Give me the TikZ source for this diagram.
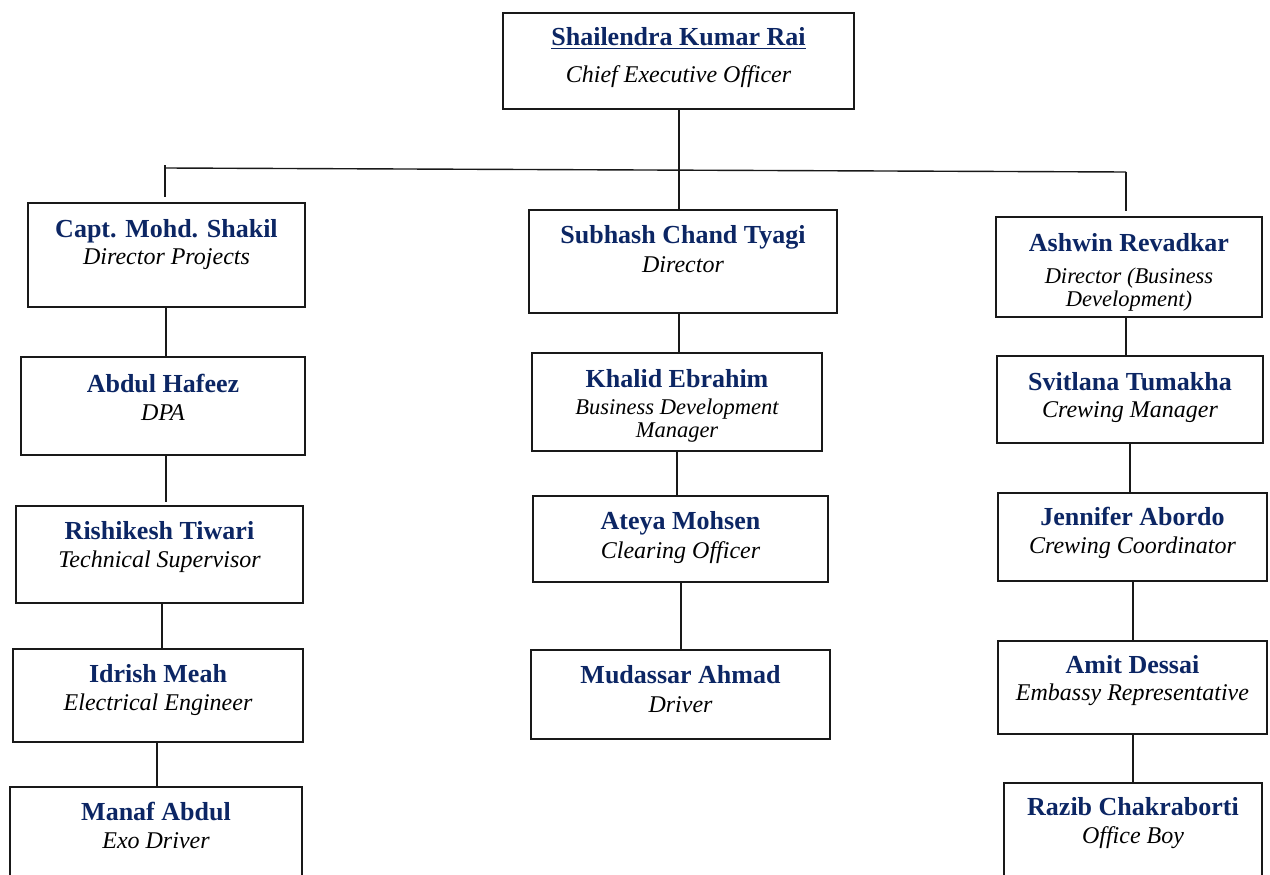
\documentclass[tikz,border=0pt]{standalone}
\usepackage{fontspec}
\setmainfont{Liberation Serif}
\usetikzlibrary{fit}
\definecolor{navy}{RGB}{12,38,100}
\tikzset{
  box/.style={draw=black!90, line width=1.6pt, inner sep=0pt, fill=none},
  conn/.style={draw=black!90, line width=1.4pt},
  pname/.style={anchor=base, inner sep=0pt, text=navy, font=\fontsize{26}{28}\selectfont\bfseries},
  ptitle/.style={anchor=base, inner sep=0pt, text=black, font=\fontsize{24}{26}\selectfont\itshape},
  ptitlesm/.style={anchor=base, inner sep=0pt, text=black, font=\fontsize{22.5}{24}\selectfont\itshape}
}
\begin{document}
\begin{tikzpicture}[x=1pt,y=-1pt]
\useasboundingbox (0,0) rectangle (1270,875);
\clip (0,0) rectangle (1270,875);
\fill[white] (0,0) rectangle (1270,875);

% boxes
\node[box, fit={(503,13) (854,109)}] (ceo) {};
\node[box, fit={(28,203) (305,307)}] (capt) {};
\node[box, fit={(21,357) (305,455)}] (hafeez) {};
\node[box, fit={(16,506) (303,603)}] (tiwari) {};
\node[box, fit={(13,649) (303,742)}] (meah) {};
\node[box, fit={(10,787) (302,905)}] (manaf) {};
\node[box, fit={(529,210) (837,313)}] (tyagi) {};
\node[box, fit={(532,353) (822,451)}] (khalid) {};
\node[box, fit={(533,496) (828,582)}] (ateya) {};
\node[box, fit={(531,650) (830,739)}] (mudassar) {};
\node[box, fit={(996,217) (1262,317)}] (ashwin) {};
\node[box, fit={(997,356) (1263,443)}] (svitlana) {};
\node[box, fit={(998,493) (1267,581)}] (jennifer) {};
\node[box, fit={(998,641) (1267,734)}] (amit) {};
\node[box, fit={(1004,783) (1262,905)}] (razib) {};

% texts
\node[pname] (ceoN) at (ceo.center |- 0,46) {\underline{Shailendra Kumar Rai}};
\node[ptitle] (ceoT) at (ceo.center |- 0,82) {Chief Executive Officer};

\node[pname] (captN) at (capt.center |- 0,237) {Capt. Mohd. Shakil};
\node[ptitle] (captT) at (capt.center |- 0,264) {Director Projects};
\node[pname] (hafeezN) at (hafeez.center |- 0,392) {Abdul Hafeez};
\node[ptitle] (hafeezT) at (hafeez.center |- 0,420) {DPA};
\node[pname] (tiwariN) at (tiwari.center |- 0,539) {Rishikesh Tiwari};
\node[ptitle] (tiwariT) at (tiwari.center |- 0,567) {Technical Supervisor};
\node[pname] (meahN) at (meah.center |- 0,682) {Idrish Meah};
\node[ptitle] (meahT) at (meah.center |- 0,710) {Electrical Engineer};
\node[pname] (manafN) at (manaf.north |- 0,820) {Manaf Abdul};
\node[ptitle] (manafT) at (manaf.north |- 0,848) {Exo Driver};

\node[pname] (tyagiN) at (tyagi.center |- 0,243) {Subhash Chand Tyagi};
\node[ptitle] (tyagiT) at (tyagi.center |- 0,272) {Director};
\node[pname] (khalidN) at (khalid.center |- 0,387) {Khalid Ebrahim};
\node[ptitlesm] (khalidT1) at (khalid.center |- 0,414) {Business Development};
\node[ptitlesm] (khalidT2) at (khalid.center |- 0,437) {Manager};
\node[pname] (ateyaN) at (ateya.center |- 0,529) {Ateya Mohsen};
\node[ptitle] (ateyaT) at (ateya.center |- 0,558) {Clearing Officer};
\node[pname] (mudassarN) at (mudassar.center |- 0,683) {Mudassar Ahmad};
\node[ptitle] (mudassarT) at (mudassar.center |- 0,712) {Driver};

\node[pname] (ashwinN) at (ashwin.center |- 0,251) {Ashwin Revadkar};
\node[ptitlesm] (ashwinT1) at (ashwin.center |- 0,283) {Director (Business};
\node[ptitlesm] (ashwinT2) at (ashwin.center |- 0,306) {Development)};
\node[pname] (svitlanaN) at (svitlana.center |- 0,390) {Svitlana Tumakha};
\node[ptitle] (svitlanaT) at (svitlana.center |- 0,417) {Crewing Manager};
\node[pname] (jenniferN) at (jennifer.center |- 0,525) {Jennifer Abordo};
\node[ptitle] (jenniferT) at (jennifer.center |- 0,553) {Crewing Coordinator};
\node[pname] (amitN) at (amit.center |- 0,673) {Amit Dessai};
\node[ptitle] (amitT) at (amit.center |- 0,700) {Embassy Representative};
\node[pname] (razibN) at (razib.north |- 0,815) {Razib Chakraborti};
\node[ptitle] (razibT) at (razib.north |- 0,843) {Office Boy};

% connector columns
\coordinate (hl) at (165,168);
\coordinate (hr) at (1126,172);
\coordinate (cM0) at (679,0);
\coordinate (cL1) at (166,0);
\coordinate (cL2) at (166,0);
\coordinate (cL3) at (162,0);
\coordinate (cL4) at (157,0);
\coordinate (cM1) at (679,0);
\coordinate (cM2) at (677,0);
\coordinate (cM3) at (681,0);
\coordinate (cR1) at (1126,0);
\coordinate (cR2) at (1130,0);
\coordinate (cR3) at (1133,0);
\coordinate (cR4) at (1133,0);

% connectors
\draw[conn] (ceo.south -| cM0) -- (tyagi.north -| cM0);
\draw[conn] (hl) -- (hr);
\draw[conn] ([yshift=3pt]hl) -- ([yshift=5pt]capt.north -| hl);
\draw[conn] (hr) -- ([yshift=5pt]ashwin.north -| hr);

\draw[conn] (capt.south -| cL1) -- (hafeez.north -| cL1);
\draw[conn] (hafeez.south -| cL2) -- ([yshift=3pt]tiwari.north -| cL2);
\draw[conn] (tiwari.south -| cL3) -- (meah.north -| cL3);
\draw[conn] (meah.south -| cL4) -- (manaf.north -| cL4);

\draw[conn] (tyagi.south -| cM1) -- (khalid.north -| cM1);
\draw[conn] (khalid.south -| cM2) -- (ateya.north -| cM2);
\draw[conn] (ateya.south -| cM3) -- (mudassar.north -| cM3);

\draw[conn] (ashwin.south -| cR1) -- (svitlana.north -| cR1);
\draw[conn] (svitlana.south -| cR2) -- (jennifer.north -| cR2);
\draw[conn] (jennifer.south -| cR3) -- (amit.north -| cR3);
\draw[conn] (amit.south -| cR4) -- (razib.north -| cR4);
\end{tikzpicture}
\end{document}
